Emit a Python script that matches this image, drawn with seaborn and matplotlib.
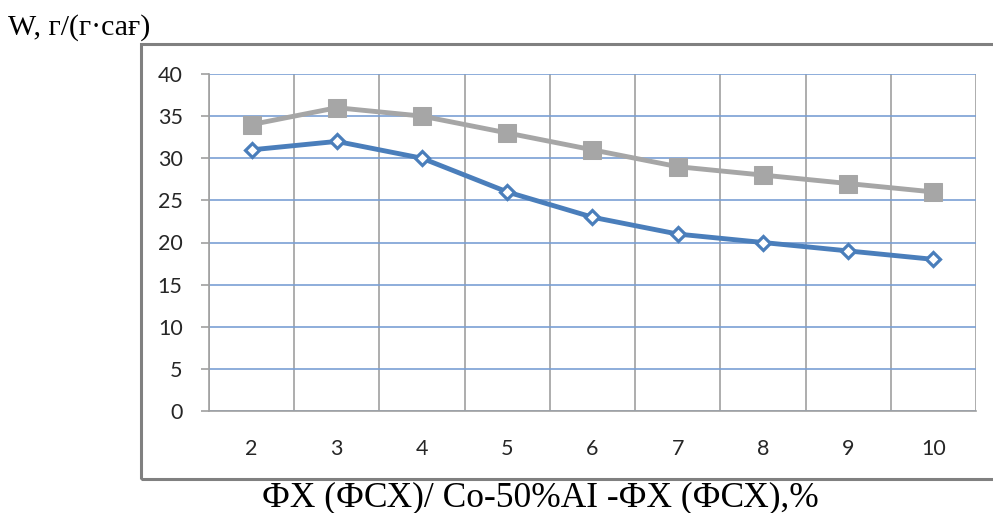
import numpy as np
import pandas as pd
import matplotlib
matplotlib.use("Agg")
import matplotlib.pyplot as plt
from matplotlib.patches import Rectangle
from matplotlib.ticker import MultipleLocator
import seaborn as sns

# data
x_vals = [2, 3, 4, 5, 6, 7, 8, 9, 10]
blue_vals = [31, 32, 30, 26, 23, 21, 20, 19, 18]
gray_vals = [34, 36, 35, 33, 31, 29, 28, 27, 26]
y_label = "W, г/(г·сағ)"
x_label = "ФХ (ФСХ)/ Co-50%AI -ФХ (ФСХ),%"

sns.set_style("white")
plt.rcParams["font.family"] = ["Lato", "DejaVu Sans"]

df = pd.DataFrame({"x": x_vals + x_vals,
                   "W": blue_vals + gray_vals,
                   "s": ["blue"] * len(x_vals) + ["gray"] * len(x_vals)})

fig = plt.figure(figsize=(9.93, 5.13), dpi=100)
ax = fig.add_axes([209 / 993, 1 - 411 / 513, (976 - 209) / 993, (411 - 74) / 513])

blue = "#4A7EBB"
gray = "#A6A6A6"

sns.lineplot(data=df[df.s == "gray"], x="x", y="W", ax=ax, color=gray, lw=3.5,
             marker="s", markersize=13, markerfacecolor=gray, markeredgecolor=gray,
             zorder=3)
sns.lineplot(data=df[df.s == "blue"], x="x", y="W", ax=ax, color=blue, lw=3.5,
             marker="D", markersize=7.5, markerfacecolor="white", markeredgecolor=blue,
             markeredgewidth=2.3, zorder=4)

ax.set_xlim(1.5, 10.5)
ax.set_ylim(0, 40)
ax.set_xticks(x_vals)
ax.xaxis.set_minor_locator(MultipleLocator(1, offset=0.5))
ax.yaxis.set_major_locator(MultipleLocator(5))

ax.grid(False)
ax.yaxis.grid(True, which="major", color="#7A9FD4", lw=1.2)
ax.xaxis.grid(True, which="minor", color="#A0A0A0", lw=1.2)
ax.set_axisbelow(True)

for side in ["top", "right"]:
    ax.spines[side].set_visible(False)
ax.spines["left"].set_color("#A0A0A0")
ax.spines["bottom"].set_color("#A0A0A0")
ax.spines["left"].set_linewidth(1.2)
ax.spines["bottom"].set_linewidth(1.2)

ax.tick_params(axis="x", which="major", length=0, pad=20, labelsize=15.5, colors="#262626")
ax.tick_params(axis="x", which="minor", length=8, width=1.2, color="#A0A0A0", direction="out")
ax.tick_params(axis="y", which="major", length=6, width=1.2, color="#A0A0A0", pad=13,
               labelsize=15.5, labelcolor="#262626", left=True)
ax.set_xlabel("")
ax.set_ylabel("")

# chart area frame
fig.patches.append(Rectangle((141 / 993, 1 - 479 / 513), 1.0, (479 - 44) / 513,
                             transform=fig.transFigure, fill=False,
                             edgecolor="#808080", lw=2.2, clip_on=False))

serif = ["Liberation Serif", "DejaVu Serif"]
fig.text(8 / 993, 1 - 35 / 513, y_label, family=serif, fontsize=21.5, ha="left",
         va="baseline", color="black")
fig.text(540 / 993, 1 - 506 / 513, x_label, family=serif, fontsize=25.5, ha="center",
         va="baseline", color="black")

fig.savefig("out.png", dpi=100)
